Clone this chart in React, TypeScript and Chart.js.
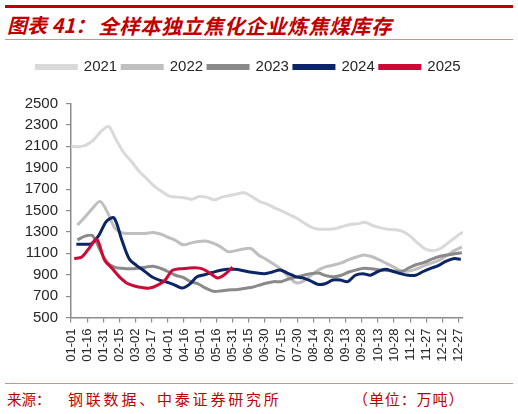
import React, { useEffect, useRef } from 'react';
import { Chart, registerables } from 'chart.js';

Chart.register(...registerables);

// ---- Data (万吨), weekly readings ----
const seriesNames = ['2021', '2022', '2023', '2024', '2025'];
// day-of-year of each series' first weekly reading
const seriesStartDays = [0, 6, 6, 5, 3];

const values2021 = [2100, 2095, 2110, 2160, 2240, 2285, 2160, 2040, 1960, 1870, 1800, 1730, 1680, 1635, 1625, 1620, 1605, 1630, 1625, 1600, 1625, 1640, 1655, 1665, 1630, 1585, 1560, 1525, 1495, 1460, 1425, 1380, 1340, 1325, 1325, 1330, 1350, 1370, 1375, 1390, 1360, 1340, 1325, 1320, 1305, 1260, 1195, 1140, 1125, 1145, 1195, 1250, 1300];
const values2022 = [1365, 1440, 1520, 1585, 1480, 1330, 1290, 1285, 1285, 1285, 1295, 1280, 1250, 1220, 1180, 1195, 1210, 1215, 1195, 1160, 1115, 1125, 1140, 1145, 1085, 1045, 1000, 950, 880, 825, 840, 895, 945, 975, 990, 1010, 1040, 1065, 1085, 1070, 1040, 1005, 970, 935, 935, 955, 985, 1010, 1035, 1080, 1125, 1160];
const values2023 = [1225, 1260, 1265, 1130, 1010, 968, 960, 955, 960, 970, 980, 960, 930, 895, 875, 835, 815, 775, 745, 748, 758, 760, 770, 780, 800, 820, 835, 835, 860, 875, 895, 910, 915, 890, 880, 895, 925, 945, 960, 955, 945, 940, 935, 930, 965, 995, 1015, 1045, 1070, 1085, 1095, 1105];
const values2024 = [1185, 1185, 1190, 1270, 1400, 1430, 1230, 1050, 985, 935, 880, 850, 830, 805, 775, 810, 880, 900, 920, 940, 950, 950, 940, 925, 915, 910, 925, 945, 915, 885, 870, 845, 810, 815, 850, 850, 835, 895, 910, 895, 930, 950, 930, 910, 895, 895, 930, 960, 985, 1025, 1050, 1045];
const values2025 = [1050, 1065, 1150, 1230, 1040, 960, 880, 820, 795, 780, 775, 800, 845, 940, 955, 960, 965, 955, 915, 870, 905, 970];

const tickDays = [0, 15, 30, 45, 60, 75, 90, 105, 120, 135, 150, 165, 180, 195, 210, 225, 240, 255, 270, 285, 300, 315, 330, 345, 360];
const tickLabels = ['01-01', '01-16', '01-31', '02-15', '03-02', '03-17', '04-01', '04-16', '05-01', '05-16', '05-31', '06-15', '06-30', '07-15', '07-30', '08-14', '08-29', '09-13', '09-28', '10-13', '10-28', '11-12', '11-27', '12-12', '12-27'];

const yMin = 500;
const yMax = 2500;
const yStep = 200;

const seriesColors = ['#d9d9d9', '#bfbfbf', '#8a8a8a', '#0b2566', '#cc0a35'];

const FONT = '"Liberation Sans", Arial, sans-serif';
const CJK = '"Noto Sans CJK SC", sans-serif';

export default function App() {
  const ref = useRef<HTMLCanvasElement>(null);

  useEffect(() => {
    const allValues = [values2021, values2022, values2023, values2024, values2025];
    const datasets = allValues.map((vals, i) => ({
      label: seriesNames[i],
      data: vals.map((v, j) => ({ x: seriesStartDays[i] + 7 * j, y: v })),
      borderColor: seriesColors[i],
      backgroundColor: seriesColors[i],
      borderWidth: 3,
      pointRadius: 0,
      pointHoverRadius: 0,
      tension: 0.3,
      order: 5 - i,
    }));

    const legendTweak = {
      id: 'legendTweak',
      afterInit(chart: any) {
        const lg = chart.legend;
        if (!lg) return;
        const origFit = lg.fit.bind(lg);
        lg.fit = () => {
          origFit();
          lg.height += 19;
        };
      },
      afterLayout(chart: any) {
        const lg = chart.legend;
        if (!lg) return;
        lg.left += 17;
        lg.right += 17;
      },
    };

    const chart = new Chart(ref.current as HTMLCanvasElement, {
      type: 'line',
      data: { datasets },
      plugins: [legendTweak],
      options: {
        animation: false,
        responsive: false,
        layout: { padding: { top: 54.5, left: 0, right: 55, bottom: 0 } },
        plugins: {
          tooltip: { enabled: false },
          legend: {
            position: 'top',
            labels: {
              boxWidth: 40,
              boxHeight: 3,
              padding: 5,
              color: '#262626',
              font: { size: 15, family: FONT },
              sort: (a: any, b: any) => a.datasetIndex - b.datasetIndex,
            },
          },
        },
        scales: {
          x: {
            type: 'linear',
            min: 0,
            max: 364,
            afterBuildTicks: (scale: any) => {
              scale.ticks = tickDays.map((v) => ({ value: v }));
            },
            afterFit: (scale: any) => {
              scale.height = 62.5;
            },
            ticks: {
              autoSkip: false,
              minRotation: 90,
              maxRotation: 90,
              padding: 6,
              color: '#262626',
              font: { size: 13, family: FONT },
              callback: (v: any) => {
                const k = tickDays.indexOf(Number(v));
                return k >= 0 ? tickLabels[k] : '';
              },
            },
            grid: { drawOnChartArea: false, drawTicks: true, tickLength: 5, color: '#8c8c8c', lineWidth: 1.2 },
            border: { color: '#8c8c8c', width: 1.5 },
          },
          y: {
            min: yMin,
            max: yMax,
            afterFit: (scale: any) => {
              scale.width = 71;
            },
            ticks: {
              stepSize: yStep,
              padding: 8,
              color: '#262626',
              font: { size: 15, family: FONT },
              callback: (v: any) => String(v),
            },
            grid: { drawOnChartArea: false, drawTicks: true, tickLength: 5, color: '#8c8c8c', lineWidth: 1.2 },
            border: { color: '#8c8c8c', width: 1.5 },
          },
        },
      },
    });
    return () => chart.destroy();
  }, []);

  return (
    <div style={{ position: 'fixed', left: 0, top: 0, width: 518, height: 414, background: '#fff', overflow: 'hidden' }}>
      <div style={{ position: 'absolute', left: 5, top: 5, width: 508, height: 2.5, background: '#c00000' }} />
      <div style={{ position: 'absolute', left: 7, top: 12, fontFamily: CJK, fontSize: 20, lineHeight: '26px', fontStyle: 'italic', fontWeight: 'bold', color: '#c00000', whiteSpace: 'nowrap' }}>
        图表 41：
      </div>
      <div style={{ position: 'absolute', left: 98, top: 12, fontFamily: CJK, fontSize: 20.5, lineHeight: '26px', letterSpacing: 0.5, fontStyle: 'italic', fontWeight: 'bold', color: '#c00000', whiteSpace: 'nowrap' }}>
        全样本独立焦化企业炼焦煤库存
      </div>
      <div style={{ position: 'absolute', left: 5, top: 39, width: 508, height: 1, background: '#e08a8a' }} />
      <canvas ref={ref} width={518} height={380} style={{ position: 'absolute', left: 0, top: 0, width: 518, height: 380, display: 'block' }} />
      <div style={{ position: 'absolute', left: 5, top: 383, width: 508, height: 1, background: '#e08a8a' }} />
      <div style={{ position: 'absolute', left: 7, top: 389, fontFamily: CJK, fontSize: 14.5, lineHeight: '20px', color: '#c00000', whiteSpace: 'nowrap' }}>
        来源：
      </div>
      <div style={{ position: 'absolute', left: 68, top: 389, fontFamily: CJK, fontSize: 15, lineHeight: '20px', letterSpacing: 2.8, color: '#c00000', whiteSpace: 'nowrap' }}>
        钢联数据、中泰证券研究所
      </div>
      <div style={{ position: 'absolute', left: 353, top: 389, fontFamily: CJK, fontSize: 15, lineHeight: '20px', letterSpacing: 0.9, color: '#c00000', whiteSpace: 'nowrap' }}>
        （单位：万吨）
      </div>
    </div>
  );
}
